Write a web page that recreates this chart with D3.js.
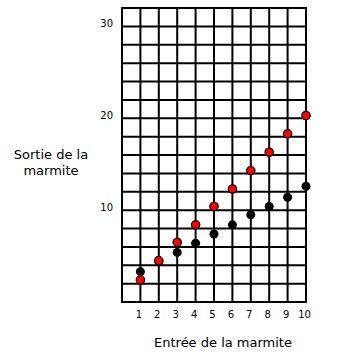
<!DOCTYPE html>
<html>
<head>
<meta charset="utf-8">
<script src="https://cdn.jsdelivr.net/npm/d3@7"></script>
<style>
  body { margin: 0; background: #fff; }
  text { font-family: "DejaVu Sans", Verdana, sans-serif; fill: #000; }
</style>
</head>
<body>
<div id="chart"></div>
<script>
// entrée de la marmite
const entrees = [1, 2, 3, 4, 5, 6, 7, 8, 9, 10];
// sortie, série rouge et série noire
const sortieRouge = [2.4, 4.5, 6.5, 8.4, 10.4, 12.3, 14.3, 16.3, 18.3, 20.3];
const sortieNoire = [3.3, 4.4, 5.4, 6.4, 7.4, 8.4, 9.5, 10.4, 11.4, 12.6];
const yTicks = [10, 20, 30];

const W = 337, H = 359;
const svg = d3.select("#chart").append("svg")
    .attr("width", W).attr("height", H);

const x = d3.scaleLinear().domain([0, 10]).range([122, 306]);
const y = d3.scaleLinear().domain([0, 32]).range([302, 8]);

// grille
const grid = svg.append("g")
    .attr("stroke", "#000")
    .attr("stroke-width", 2);

grid.selectAll("line.v")
    .data(d3.range(0, 11))
    .enter().append("line")
    .attr("x1", d => x(d)).attr("x2", d => x(d))
    .attr("y1", y(32)).attr("y2", y(0));

grid.selectAll("line.h")
    .data(d3.range(0, 33, 2))
    .enter().append("line")
    .attr("x1", x(0) - 1).attr("x2", x(10) + 1)
    .attr("y1", d => y(d)).attr("y2", d => y(d));

// axes (texte seulement)
const xAxis = d3.axisBottom(x).tickValues(entrees).tickSize(0).tickPadding(0);
svg.append("g")
    .attr("transform", "translate(-2, 311)")
    .call(xAxis)
    .call(g => g.select(".domain").remove())
    .selectAll("text")
    .style("font-size", "10px")
    .style("font-family", "DejaVu Sans, Verdana, sans-serif");

const yAxis = d3.axisLeft(y).tickValues(yTicks).tickSize(0).tickPadding(0);
svg.append("g")
    .attr("transform", "translate(113, -3)")
    .call(yAxis)
    .call(g => g.select(".domain").remove())
    .selectAll("text")
    .style("font-size", "10px")
    .style("font-family", "DejaVu Sans, Verdana, sans-serif");

// titres
svg.append("text")
    .attr("x", 223).attr("y", 347)
    .attr("text-anchor", "middle")
    .style("font-size", "13px")
    .text("Entrée de la marmite");

const yt = svg.append("text")
    .attr("text-anchor", "middle")
    .style("font-size", "13px");
yt.append("tspan").attr("x", 51).attr("y", 159).text("Sortie de la");
yt.append("tspan").attr("x", 51).attr("y", 175).text("marmite");

// points
svg.append("g").selectAll("circle")
    .data(entrees.map((e, i) => ({e, v: sortieNoire[i]})))
    .enter().append("circle")
    .attr("cx", d => x(d.e)).attr("cy", d => y(d.v))
    .attr("r", 4.5)
    .attr("fill", "#000");

svg.append("g").selectAll("circle")
    .data(entrees.map((e, i) => ({e, v: sortieRouge[i]})))
    .enter().append("circle")
    .attr("cx", d => x(d.e)).attr("cy", d => y(d.v))
    .attr("r", 4.2)
    .attr("fill", "#f00")
    .attr("stroke", "#000")
    .attr("stroke-width", 1.2);
</script>
</body>
</html>
